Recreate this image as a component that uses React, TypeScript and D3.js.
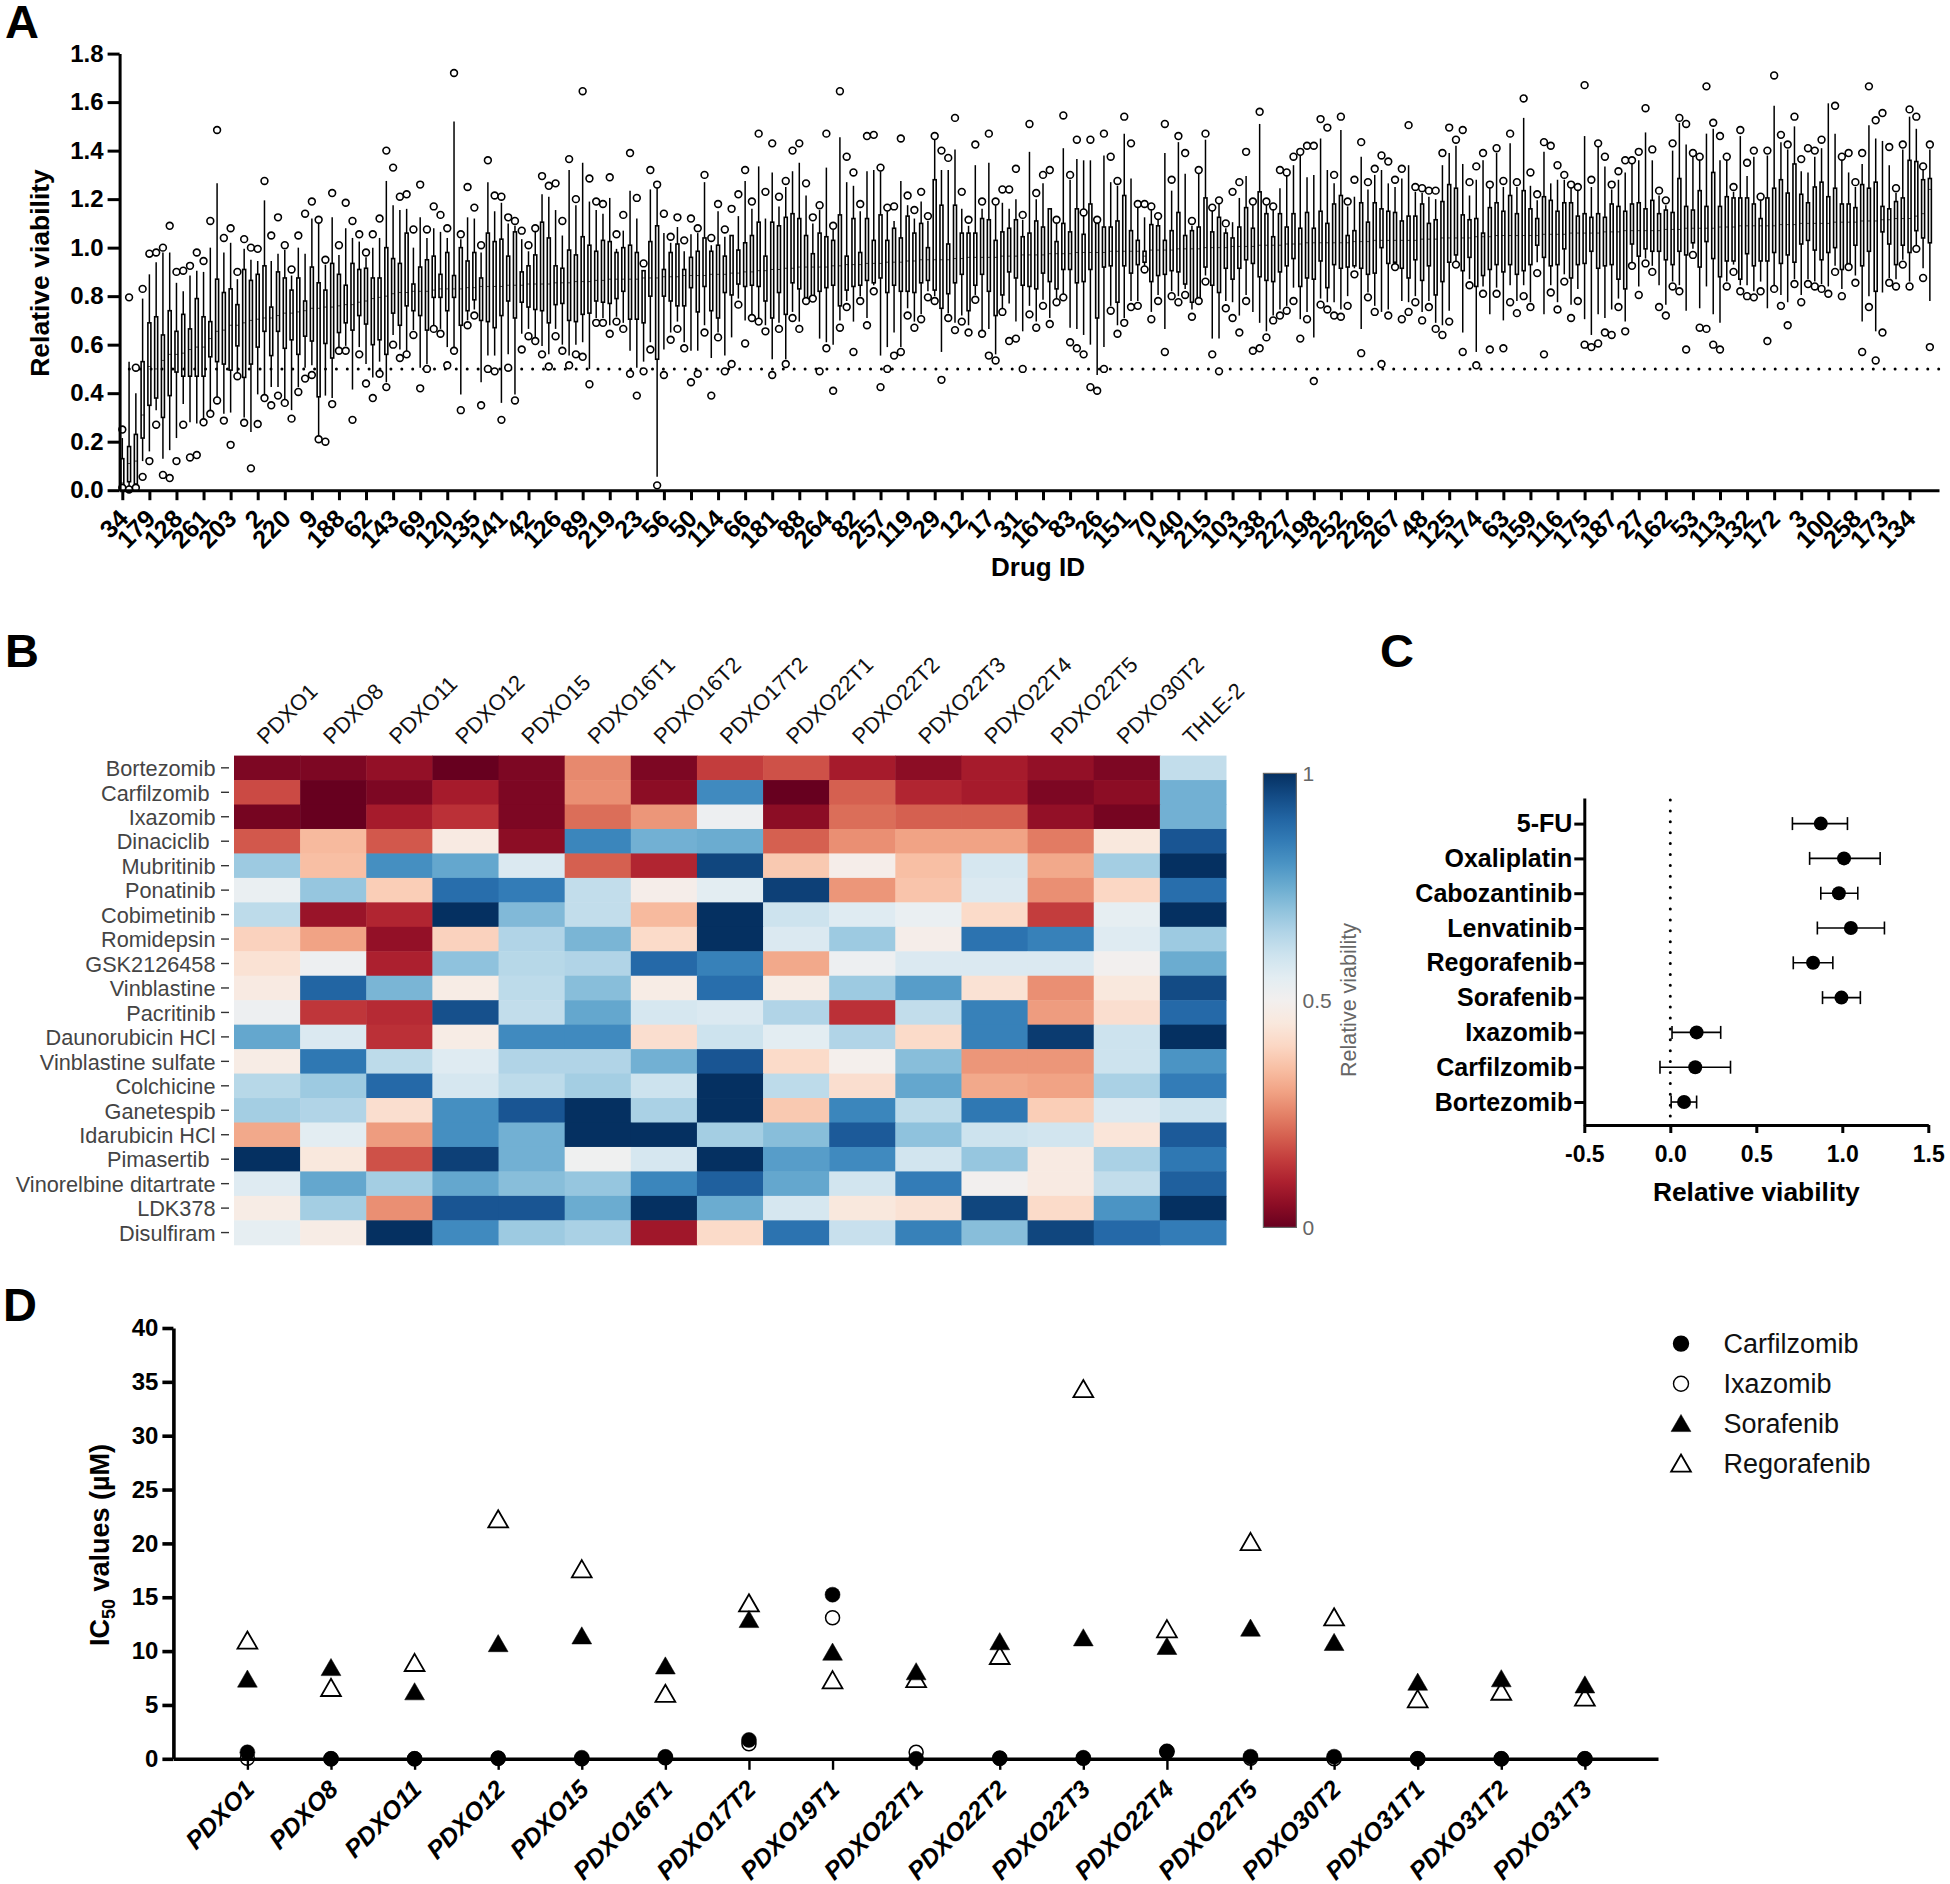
import { FC, useEffect, useRef } from 'react';
import * as d3 from 'd3';

const FONT = '"Liberation Sans", Arial, sans-serif';

// Panel A: one label under every fourth box
const drugLabels = ['34', '179', '128', '261', '203', '2', '220', '9', '188', '62', '143', '69', '120', '135', '141', '42', '126', '89', '219', '23', '56', '50', '114', '66', '181', '88', '264', '82', '257', '119', '29', '12', '17', '31', '161', '83', '26', '151', '70', '140', '215', '103', '138', '227', '198', '252', '226', '267', '48', '125', '174', '63', '159', '116', '175', '187', '27', '162', '53', '113', '132', '172', '3', '100', '258', '173', '134'];

const upperOutlier: (number | null)[] = [
  .25, .795, .505, .83, .975, .98, 1.0, 1.09, .90, .905,
  .925, .98, .945, 1.11, 1.485, 1.04, 1.08, .90, 1.035, 1.00,
  .995, 1.275, 1.05, 1.125, 1.01, .91, 1.05, 1.14, 1.19, 1.115,
  .95, 1.225, 1.01, 1.185, 1.11, 1.055, .98, 1.055, 1.12, 1.40,
  1.33, 1.21, 1.22, 1.075, 1.26, 1.075, 1.17, 1.135, 1.08, 1.72,
  1.055, 1.25, 1.165, 1.01, 1.36, 1.215, 1.21, 1.125, 1.11, 1.07,
  1.01, 1.08, 1.295, 1.255, 1.265, 1.11, 1.365, 1.20, 1.645, 1.285,
  1.19, 1.18, 1.29, 1.055, 1.135, 1.39, 1.205, .935, 1.32, 1.26,
  1.14, 1.045, 1.125, 1.03, 1.12, 1.08, 1.30, 1.04, 1.18, 1.075,
  1.16, 1.22, 1.32, 1.19, 1.47, 1.23, 1.43, 1.21, 1.275, 1.40,
  1.43, 1.265, 1.125, 1.175, 1.47, 1.09, 1.645, 1.375, 1.31, 1.18,
  1.46, 1.465, 1.33, 1.165, 1.17, 1.45, 1.215, 1.155, 1.23, 1.13,
  1.46, 1.40, 1.37, 1.535, 1.23, 1.115, 1.425, 1.19, 1.47, 1.19,
  1.24, 1.24, 1.325, 1.135, 1.51, 1.225, 1.30, 1.32, 1.115, 1.545,
  1.30, 1.445, 1.145, 1.445, 1.115, 1.47, 1.375, 1.275, 1.54, 1.43,
  1.18, 1.18, 1.17, 1.13, 1.51, 1.28, 1.46, 1.39, 1.11, 1.32,
  1.47, 1.165, 1.195, 1.10, 1.23, 1.27, 1.395, 1.19, 1.56, 1.19,
  1.17, 1.32, 1.31, 1.375, 1.395, 1.42, 1.42, 1.53, 1.495, 1.30,
  1.54, 1.19, 1.28, 1.435, 1.27, 1.325, 1.38, 1.355, 1.28, 1.325,
  1.505, 1.25, 1.245, 1.235, 1.235, 1.39, 1.495, 1.445, 1.485, 1.27,
  1.335, 1.39, 1.26, 1.41, 1.275, 1.47, 1.27, 1.615, 1.31, 1.22,
  1.435, 1.42, 1.34, 1.30, 1.26, 1.25, 1.67, 1.28, 1.43, 1.375,
  1.26, 1.315, 1.36, 1.36, 1.395, 1.575, 1.405, 1.235, 1.195, 1.43,
  1.535, 1.51, 1.39, 1.375, 1.665, 1.515, 1.46, 1.375, 1.25, 1.485,
  1.35, 1.40, 1.21, 1.40, 1.71, 1.465, 1.425, 1.54, 1.365, 1.41,
  1.40, 1.445, null, 1.585, 1.375, 1.39, 1.27, 1.39, 1.665, 1.525,
  1.555, 1.415, 1.245, 1.425, 1.57, 1.54, 1.335, 1.425,
];

const whiskerHigh = [
  .215, .53, .40, .79, .89, .94, .98, .98, .855, .82,
  .885, .905, .90, 1.0, 1.265, .98, 1.02, .87, .995, .95,
  .945, 1.195, .945, .975, .99, .885, 1.0, .975, 1.12, 1.10,
  .93, 1.125, .97, 1.08, 1.04, 1.025, .96, 1.0, 1.04, 1.275,
  1.175, 1.155, 1.16, 1.0, 1.125, 1.04, 1.08, 1.065, 1.04, 1.52,
  1.035, 1.125, 1.12, .98, 1.27, 1.15, 1.185, 1.10, 1.09, 1.035,
  .985, 1.065, 1.22, 1.21, 1.155, 1.05, 1.32, 1.175, 1.35, 1.19,
  1.155, 1.14, 1.205, .995, 1.07, 1.235, 1.12, .90, 1.24, 1.25,
  1.06, 1.02, 1.085, .985, 1.055, 1.06, 1.27, 1.01, 1.15, 1.045,
  1.05, 1.13, 1.275, 1.16, 1.335, 1.12, 1.31, 1.17, 1.25, 1.315,
  1.35, 1.215, 1.10, 1.155, 1.33, 1.075, 1.455, 1.27, 1.255, 1.15,
  1.315, 1.32, 1.315, 1.15, 1.11, 1.275, 1.175, 1.12, 1.19, 1.11,
  1.45, 1.32, 1.32, 1.405, 1.16, 1.09, 1.34, 1.16, 1.35, 1.175,
  1.185, 1.16, 1.20, 1.115, 1.395, 1.20, 1.265, 1.16, 1.105, 1.41,
  1.28, 1.365, 1.36, 1.36, 1.10, 1.38, 1.27, 1.255, 1.47, 1.285,
  1.17, 1.125, 1.155, 1.115, 1.39, 1.235, 1.435, 1.305, 1.09, 1.305,
  1.445, 1.155, 1.185, 1.08, 1.105, 1.205, 1.295, 1.175, 1.51, 1.175,
  1.155, 1.245, 1.30, 1.34, 1.39, 1.29, 1.30, 1.45, 1.32, 1.265,
  1.485, 1.17, 1.21, 1.375, 1.24, 1.30, 1.32, 1.265, 1.25, 1.285,
  1.34, 1.23, 1.225, 1.21, 1.20, 1.34, 1.39, 1.42, 1.345, 1.215,
  1.28, 1.36, 1.25, 1.39, 1.25, 1.43, 1.25, 1.535, 1.255, 1.195,
  1.395, 1.265, 1.28, 1.28, 1.25, 1.235, 1.46, 1.25, 1.415, 1.335,
  1.24, 1.28, 1.31, 1.345, 1.36, 1.475, 1.36, 1.215, 1.175, 1.40,
  1.515, 1.425, 1.375, 1.36, 1.47, 1.49, 1.36, 1.36, 1.23, 1.46,
  1.295, 1.375, 1.195, 1.38, 1.585, 1.435, 1.405, 1.50, 1.315, 1.31,
  1.375, 1.41, 1.595, 1.47, 1.36, 1.31, 1.25, 1.345, 1.505, 1.45,
  1.44, 1.34, 1.225, 1.405, 1.54, 1.49, 1.32, 1.405,
];

const boxQ3 = [
  .13, .18, .23, .53, .69, .715, .64, .74, .655, .725,
  .665, .79, .715, .695, .87, .815, .83, .765, .91, .865,
  .89, .925, .755, .90, .875, .825, .875, .78, .92, .855,
  .825, .935, .89, .845, .935, .91, .915, .875, .875, 1.0,
  .955, .935, 1.06, .85, .92, .95, .965, .89, .98, .885,
  1.0, .945, .98, .875, 1.06, 1.025, 1.035, .965, 1.065, .90,
  .925, .97, 1.105, 1.04, .925, .915, .99, .97, 1.045, 1.01,
  .985, 1.03, 1.025, .98, 1.0, 1.01, .98, .905, 1.025, 1.09,
  .91, .98, 1.015, .91, .96, .985, 1.04, .985, 1.01, .965,
  1.05, .99, 1.02, 1.05, 1.105, .965, 1.105, 1.09, 1.125, 1.14,
  1.12, 1.05, .975, 1.06, 1.045, 1.03, 1.135, .965, 1.12, .98,
  1.12, 1.03, 1.135, 1.03, 1.08, 1.04, 1.13, 1.06, 1.10, 1.0,
  1.28, 1.175, 1.015, 1.175, 1.06, 1.06, 1.06, 1.12, 1.115, 1.03,
  1.065, 1.08, 1.115, 1.045, 1.06, 1.11, 1.085, 1.16, 1.025, 1.10,
  1.065, 1.16, 1.055, 1.18, 1.10, 1.085, 1.085, 1.11, 1.215, 1.07,
  1.03, .985, 1.095, 1.09, 1.03, 1.07, 1.145, 1.05, 1.07, 1.085,
  1.205, 1.065, 1.125, 1.06, 1.04, 1.085, 1.165, 1.08, 1.23, 1.14,
  1.045, 1.14, 1.085, 1.14, 1.08, 1.145, 1.08, 1.15, 1.10, 1.18,
  1.215, 1.05, 1.07, 1.185, 1.105, 1.185, 1.16, 1.15, 1.145, 1.11,
  1.13, 1.13, 1.18, 1.10, 1.115, 1.19, 1.26, 1.245, 1.135, 1.115,
  1.12, 1.06, 1.165, 1.185, 1.15, 1.215, 1.14, 1.235, 1.16, 1.12,
  1.21, 1.195, 1.15, 1.185, 1.185, 1.13, 1.14, 1.125, 1.14, 1.125,
  1.18, 1.17, 1.15, 1.18, 1.185, 1.16, 1.195, 1.14, 1.155, 1.145,
  1.285, 1.17, 1.155, 1.235, 1.17, 1.31, 1.17, 1.21, 1.205, 1.205,
  1.205, 1.18, 1.12, 1.205, 1.245, 1.28, 1.225, 1.345, 1.22, 1.185,
  1.25, 1.27, 1.21, 1.245, 1.18, 1.18, 1.165, 1.26, 1.245, 1.27,
  1.17, 1.16, 1.19, 1.205, 1.36, 1.355, 1.28, 1.285,
];

const boxMedian = [
  .03, .11, .12, .31, .51, .50, .535, .56, .56, .565,
  .58, .59, .59, .625, .655, .66, .68, .68, .69, .70,
  .705, .71, .71, .72, .73, .73, .735, .74, .75, .75,
  .755, .755, .76, .765, .765, .775, .78, .79, .795, .80,
  .81, .815, .815, .82, .82, .82, .825, .83, .83, .83,
  .83, .835, .835, .84, .84, .84, .84, .845, .845, .845,
  .85, .85, .85, .85, .855, .855, .855, .86, .86, .86,
  .865, .865, .87, .87, .87, .87, .87, .875, .875, .875,
  .88, .88, .88, .885, .885, .885, .885, .89, .89, .89,
  .895, .895, .90, .90, .905, .905, .91, .91, .915, .915,
  .92, .92, .92, .92, .92, .925, .925, .93, .93, .93,
  .935, .935, .935, .94, .94, .94, .945, .945, .95, .95,
  .95, .95, .95, .955, .955, .96, .96, .96, .96, .96,
  .965, .965, .965, .97, .97, .97, .97, .975, .975, .975,
  .975, .98, .98, .98, .98, .98, .985, .985, .985, .985,
  .985, .965, .99, .99, .99, .99, .995, .995, .995, .995,
  1.0, 1.0, 1.0, 1.0, 1.005, 1.005, 1.005, 1.005, 1.01, 1.01,
  1.01, 1.01, 1.015, 1.015, 1.015, 1.02, 1.02, 1.02, 1.02, 1.02,
  1.02, 1.02, 1.025, 1.025, 1.025, 1.03, 1.03, 1.03, 1.03, 1.03,
  1.03, 1.03, 1.035, 1.035, 1.035, 1.04, 1.04, 1.04, 1.04, 1.04,
  1.045, 1.045, 1.045, 1.05, 1.05, 1.05, 1.05, 1.05, 1.05, 1.05,
  1.055, 1.055, 1.055, 1.055, 1.06, 1.06, 1.06, 1.06, 1.06, 1.065,
  1.065, 1.065, 1.07, 1.07, 1.07, 1.07, 1.07, 1.07, 1.075, 1.075,
  1.075, 1.08, 1.08, 1.08, 1.08, 1.08, 1.085, 1.085, 1.085, 1.09,
  1.09, 1.09, 1.09, 1.09, 1.09, 1.095, 1.095, 1.095, 1.10, 1.10,
  1.10, 1.10, 1.10, 1.105, 1.105, 1.105, 1.105, 1.11, 1.11, 1.11,
  1.115, 1.115, 1.12, 1.12, 1.12, 1.13, 1.14, 1.24,
];

const boxQ1 = [
  0, .035, .025, .215, .35, .38, .30, .39, .487, .47,
  .47, .47, .47, .55, .53, .52, .495, .595, .465, .52,
  .59, .655, .555, .655, .585, .62, .56, .635, .615, .385,
  .605, .545, .65, .69, .66, .72, .685, .60, .62, .56,
  .73, .68, .76, .74, .72, .66, .795, .795, .74, .795,
  .68, .74, .785, .70, .695, .67, .72, .78, .71, .775,
  .755, .745, .74, .69, .765, .77, .70, .695, .725, .73,
  .78, .775, .77, .79, .82, .705, .705, .69, .80, .54,
  .80, .78, .76, .76, .835, .735, .84, .74, .71, .815,
  .805, .85, .84, .845, .84, .78, .71, .815, .725, .855,
  .83, .79, .79, .82, .835, .845, .76, .825, .84, .845,
  .865, .855, .875, .815, .845, .82, .82, .815, .855, .865,
  .825, .75, .81, .855, .89, .74, .845, .89, .82, .72,
  .805, .90, .875, .845, .84, .83, .895, .86, .83, .91,
  .91, .855, .86, .91, .71, .92, .925, .775, .925, .895,
  .93, .94, .86, .885, .89, .905, .90, .85, .775, .79,
  .92, .845, .815, .915, .87, .915, .95, .935, .88, .865,
  .86, .90, .925, .955, .84, .875, .87, .945, .835, .93,
  .915, .92, .925, .915, .89, .895, 1.0, .935, .94, .915,
  .875, .95, .865, .925, .805, .86, .94, .97, .905, .96,
  .84, .885, .91, .93, .90, .93, .89, .905, .93, 1.01,
  .96, .925, .93, .995, .875, .93, .935, .985, .915, .925,
  .93, .87, .83, 1.015, .965, .995, .985, .985, .95, .93,
  .985, .97, 1.02, .92, 1.025, .955, .88, .945, .945, .87,
  .975, .925, .945, .945, .98, .935, .97, .94, 1.015, 1.03,
  .99, .95, .98, 1.0, .91, .925, 1.01, .925, .985, .82,
  1.065, 1.015, .93, 1.01, .98, 1.07, 1.04, 1.02,
];

const whiskerLow = [
  0, .01, .02, .12, .16, .33, .13, .165, .215, .355,
  .28, .275, .29, .33, .38, .315, .32, .48, .30, .24,
  .395, .39, .425, .425, .375, .33, .425, .505, .515, .22,
  .39, .38, .59, .595, .415, .59, .52, .465, .53, .445,
  .64, .58, .57, .66, .505, .52, .68, .665, .59, .58,
  .395, .70, .745, .445, .555, .555, .36, .56, .395, .645,
  .665, .63, .595, .56, .665, .60, .555, .60, .61, .50,
  .71, .71, .68, .715, .69, .575, .505, .53, .61, .055,
  .58, .65, .695, .61, .575, .575, .68, .545, .65, .555,
  .63, .79, .70, .72, .705, .68, .54, .69, .54, .735,
  .695, .80, .805, .625, .61, .60, .70, .78, .695, .80,
  .71, .845, .555, .59, .65, .59, .75, .695, .725, .82,
  .80, .57, .73, .69, .72, .68, .805, .66, .665, .56,
  .75, .77, .695, .655, .76, .695, .785, .71, .78, .805,
  .67, .665, .64, .60, .475, .59, .76, .68, .71, .78,
  .78, .925, .735, .805, .665, .82, .80, .83, .745, .805,
  .885, .625, .625, .78, .775, .72, .805, .735, .69, .655,
  .72, .745, .76, .835, .705, .735, .63, .79, .775, .775,
  .745, .80, .915, .665, .815, .76, .735, .745, .93, .78,
  .775, .80, .735, .78, .69, .68, .74, .945, .65, .87,
  .57, .84, .725, .835, .70, .845, .78, .845, .775, .94,
  .725, .845, .775, .89, .765, .83, .705, .64, .725, .71,
  .745, .79, .695, .93, .84, .955, .925, .845, .765, .86,
  .845, .74, .995, .75, .84, .725, .69, .86, .93, .845,
  .845, .82, .86, .75, .845, .805, .775, .87, .805, .87,
  .86, .85, .84, .925, .83, .94, .885, .695, .80, .655,
  .815, .875, .87, .95, .86, 1.01, .915, .78,
];

const lowerOutlier = [
  .01, .003, .01, .055, .12, .27, .063, .05, .12, .27,
  .135, .145, .28, .315, .37, .287, .187, .47, .278, .09,
  .273, .38, .35, .39, .36, .295, .405, .46, .475, .21,
  .20, .355, .575, .575, .29, .56, .44, .38, .48, .425,
  .60, .545, .56, .64, .42, .50, .665, .645, .515, .575,
  .33, .68, .72, .35, .50, .49, .29, .505, .37, .58,
  .635, .615, .56, .51, .635, .575, .515, .56, .55, .437,
  .69, .69, .645, .695, .665, .48, .39, .49, .58, .02,
  .475, .62, .665, .585, .445, .48, .65, .39, .63, .49,
  .52, .765, .605, .71, .695, .655, .475, .665, .52, .71,
  .665, .78, .79, .49, .585, .41, .67, .755, .57, .78,
  .68, .82, .425, .50, .555, .57, .72, .67, .705, .795,
  .78, .455, .71, .66, .695, .65, .785, .645, .555, .535,
  .735, .615, .625, .50, .725, .67, .76, .685, .775, .795,
  .61, .585, .56, .425, .41, .50, .74, .645, .69, .755,
  .76, .91, .705, .78, .57, .80, .775, .805, .715, .78,
  .86, .56, .49, .75, .71, .65, .78, .575, .585, .63,
  .70, .72, .74, .78, .625, .705, .45, .765, .745, .72,
  .715, .76, .89, .565, .795, .735, .52, .72, .92, .705,
  .735, .775, .70, .755, .665, .64, .695, .93, .57, .845,
  .515, .81, .58, .81, .585, .775, .73, .80, .755, .895,
  .56, .815, .745, .86, .71, .78, .60, .59, .605, .65,
  .64, .755, .655, .925, .805, .935, .90, .755, .72, .84,
  .82, .58, .97, .67, .665, .60, .58, .84, .90, .82,
  .80, .795, .82, .615, .83, .76, .68, .85, .775, .85,
  .84, .83, .81, .90, .80, .92, .855, .57, .755, .535,
  .65, .855, .84, .93, .84, .995, .875, .59,
];

// Panel B
const heatColumns = ['PDXO1', 'PDXO8', 'PDXO11', 'PDXO12', 'PDXO15', 'PDXO16T1', 'PDXO16T2', 'PDXO17T2', 'PDXO22T1', 'PDXO22T2', 'PDXO22T3', 'PDXO22T4', 'PDXO22T5', 'PDXO30T2', 'THLE-2'];
const heatRows = ['Bortezomib', 'Carfilzomib ', 'Ixazomib', 'Dinaciclib ', 'Mubritinib', 'Ponatinib', 'Cobimetinib', 'Romidepsin', 'GSK2126458', 'Vinblastine', 'Pacritinib', 'Daunorubicin HCl', 'Vinblastine sulfate', 'Colchicine', 'Ganetespib', 'Idarubicin HCl', 'Pimasertib ', 'Vinorelbine ditartrate', 'LDK378', 'Disulfiram'];
const heatValues = [
  [.03, .03, .06, 0, .03, .26, .03, .15, .18, .09, .05, .09, .06, .03, .62],
  [.17, 0, .03, .09, .03, .27, .05, .82, 0, .2, .11, .09, .03, .05, .74],
  [.02, 0, .09, .13, .03, .22, .28, .52, .05, .22, .2, .2, .06, .02, .74],
  [.19, .34, .19, .46, .05, .83, .74, .75, .2, .27, .3, .3, .24, .45, .93],
  [.68, .35, .81, .76, .57, .2, .11, .96, .37, .48, .35, .58, .31, .67, 1],
  [.53, .69, .38, .88, .85, .62, .48, .55, .97, .28, .36, .57, .27, .4, .88],
  [.63, .07, .11, 1, .72, .62, .34, 1, .6, .56, .53, .41, .15, .54, 1],
  [.39, .3, .06, .39, .65, .73, .41, 1, .57, .68, .48, .87, .84, .56, .68],
  [.43, .52, .1, .7, .64, .65, .89, .84, .31, .52, .57, .57, .57, .5, .75],
  [.46, .9, .73, .47, .63, .71, .47, .88, .47, .68, .78, .43, .27, .45, .95],
  [.52, .14, .12, .94, .62, .76, .58, .57, .65, .13, .62, .84, .29, .42, .89],
  [.76, .57, .13, .47, .82, .82, .42, .6, .55, .65, .41, .84, .98, .6, 1],
  [.47, .86, .63, .56, .65, .65, .74, .93, .41, .49, .71, .28, .28, .6, .8],
  [.64, .68, .89, .58, .63, .67, .6, 1, .63, .42, .76, .31, .3, .66, .85],
  [.67, .65, .42, .81, .93, 1, .66, 1, .37, .83, .63, .86, .38, .57, .6],
  [.31, .55, .29, .81, .74, 1, 1, .67, .71, .92, .7, .6, .59, .44, .92],
  [1, .45, .18, .97, .74, .51, .58, 1, .78, .82, .59, .69, .46, .66, .86],
  [.56, .76, .67, .76, .71, .69, .83, .91, .76, .59, .85, .5, .46, .62, .91],
  [.47, .67, .27, .93, .93, .75, 1, .75, .58, .45, .43, .96, .41, .8, 1],
  [.54, .47, 1, .82, .68, .66, .08, .41, .87, .61, .84, .71, .96, .89, .85],
];

// Panel C
const forestDrugs = ['5-FU', 'Oxaliplatin', 'Cabozantinib', 'Lenvatinib', 'Regorafenib', 'Sorafenib', 'Ixazomib', 'Carfilzomib', 'Bortezomib'];
const forestMean = [.875, 1.01, .98, 1.05, .83, .995, .153, .145, .08];
const forestLow = [.71, .81, .875, .855, .715, .885, .01, -.06, .005];
const forestHigh = [1.03, 1.22, 1.09, 1.245, .945, 1.105, .293, .35, .153];

// Panel D
const ic50Models = ['PDXO1', 'PDXO8', 'PDXO11', 'PDXO12', 'PDXO15', 'PDXO16T1', 'PDXO17T2', 'PDXO19T1', 'PDXO22T1', 'PDXO22T2', 'PDXO22T3', 'PDXO22T4', 'PDXO22T5', 'PDXO30T2', 'PDXO31T1', 'PDXO31T2', 'PDXO31T3'];
const carfilzomibIC50 = [.6, 0, 0, .05, .1, .18, 1.75, 15.24, 0, .05, .1, .7, .2, .2, 0, 0, 0];
const ixazomibIC50 = [.05, 0, 0, .05, 0, .1, 1.4, 13.1, .6, .05, .05, .65, .05, 0, 0, 0, 0];
const sorafenibIC50 = [7.37, 8.44, 6.19, 10.66, 11.38, 8.59, 12.9, 9.87, 8.05, 10.84, 11.2, 10.4, 12.1, 10.77, 7.08, 7.4, 6.83];
const regorafenibIC50 = [10.95, 6.55, 8.87, 22.2, 17.57, 6.0, 14.4, 7.26, 7.37, 9.52, 34.3, 12.0, 20.1, 13.1, 5.5, 6.2, 5.65];
const ic50Legend = ['Carfilzomib', 'Ixazomib', 'Sorafenib', 'Regorafenib'];

type Sel = d3.Selection<any, any, any, any>;

// Thick black Prism style axes
const styleAxis = (g: Sel, size: number, width = 3) => {
  g.select('.domain').attr('stroke', '#000').attr('stroke-width', width);
  g.selectAll('.tick line').attr('stroke', '#000').attr('stroke-width', width);
  g.selectAll('text')
    .attr('fill', '#000')
    .style('font-family', FONT)
    .style('font-size', `${size}px`)
    .style('font-weight', 'bold');
};

const addText = (svg: Sel, text: string, x: number, y: number, size: number, weight = 'bold', fill = '#000') =>
  svg
    .append('text')
    .attr('x', x)
    .attr('y', y)
    .attr('fill', fill)
    .style('font-family', FONT)
    .style('font-size', `${size}px`)
    .style('font-weight', weight)
    .text(text);

const drawPanelA = (svg: Sel) => {
  const x = d3.scaleLinear().domain([-0.4, 268.35]).range([119.6, 1939]);
  const y = d3.scaleLinear().domain([0, 1.8]).range([490.2, 53.6]);
  const g = svg.append('g');
  const indices = d3.range(boxMedian.length);
  const boxWidth = 3;

  // Whiskers
  g.selectAll('.whisker')
    .data(indices)
    .enter()
    .append('line')
    .attr('x1', (i) => x(i))
    .attr('x2', (i) => x(i))
    .attr('y1', (i) => y(whiskerHigh[i]))
    .attr('y2', (i) => y(whiskerLow[i]))
    .attr('stroke', '#000')
    .attr('stroke-width', 1.5);

  // Boxes
  g.selectAll('.box')
    .data(indices)
    .enter()
    .append('rect')
    .attr('x', (i) => x(i) - boxWidth / 2)
    .attr('width', boxWidth)
    .attr('y', (i) => y(boxQ3[i]))
    .attr('height', (i) => y(boxQ1[i]) - y(boxQ3[i]))
    .attr('fill', '#fff')
    .attr('stroke', '#000')
    .attr('stroke-width', 1.6);

  // Medians
  g.selectAll('.median')
    .data(indices)
    .enter()
    .append('line')
    .attr('x1', (i) => x(i) - boxWidth / 2)
    .attr('x2', (i) => x(i) + boxWidth / 2)
    .attr('y1', (i) => y(boxMedian[i]))
    .attr('y2', (i) => y(boxMedian[i]))
    .attr('stroke', '#000')
    .attr('stroke-width', 0.7);

  // Threshold
  g.append('line')
    .attr('x1', x(0) + 7)
    .attr('x2', x.range()[1])
    .attr('y1', y(0.5))
    .attr('y2', y(0.5))
    .attr('stroke', '#000')
    .attr('stroke-width', 3)
    .attr('stroke-linecap', 'round')
    .attr('stroke-dasharray', '0 10.9');

  // Outliers
  const outliers = [
    ...indices.filter((i) => upperOutlier[i] !== null).map((i) => ({ i, v: upperOutlier[i] as number })),
    ...indices.map((i) => ({ i, v: lowerOutlier[i] })),
  ];
  g.selectAll('.outlier')
    .data(outliers)
    .enter()
    .append('circle')
    .attr('cx', (d) => x(d.i))
    .attr('cy', (d) => y(d.v))
    .attr('r', 3.4)
    .attr('fill', '#fff')
    .attr('stroke', '#000')
    .attr('stroke-width', 1.6);

  // Axes
  const yAxis = svg
    .append('g')
    .attr('transform', `translate(${x.range()[0]},0)`)
    .call(
      d3.axisLeft(y)
        .tickValues(d3.range(0, 1.81, 0.2))
        .tickSizeInner(12)
        .tickSizeOuter(0)
        .tickPadding(4)
        .tickFormat((d) => (+d).toFixed(1)),
    );
  styleAxis(yAxis, 24);

  const xAxis = svg
    .append('g')
    .attr('transform', `translate(0,${y(0)})`)
    .call(
      d3.axisBottom(x)
        .tickValues(drugLabels.map((_, i) => i * 4))
        .tickSizeInner(10)
        .tickSizeOuter(0)
        .tickFormat((d) => drugLabels[+d / 4]),
    );
  styleAxis(xAxis, 25);
  xAxis
    .selectAll('text')
    .attr('y', 0)
    .attr('dy', 0)
    .attr('transform', 'translate(7,30)rotate(-45)')
    .style('text-anchor', 'end');

  addText(svg, 'Drug ID', 1038, 576, 26).style('text-anchor', 'middle');
  addText(svg, 'Relative viability', 0, 0, 26.5)
    .attr('transform', 'translate(49,273)rotate(-90)')
    .style('text-anchor', 'middle');
};

const drawPanelB = (svg: Sel) => {
  const x = d3.scaleBand().domain(heatColumns).range([234, 1226]);
  const y = d3.scaleBand().domain(heatRows).range([755.6, 1244.8]);
  const color = d3.scaleSequential(d3.interpolateRdBu).domain([0, 1]);

  const cells = heatRows.flatMap((row, r) => heatColumns.map((col, c) => ({ row, col, v: heatValues[r][c] })));
  svg
    .append('g')
    .selectAll('rect')
    .data(cells)
    .enter()
    .append('rect')
    .attr('x', (d) => x(d.col)!)
    .attr('y', (d) => y(d.row)!)
    .attr('width', x.bandwidth() + 0.5)
    .attr('height', y.bandwidth() + 0.5)
    .attr('fill', (d) => color(d.v));

  // Row labels
  const rowAxis = svg
    .append('g')
    .attr('transform', 'translate(229,0)')
    .call(d3.axisLeft(y).tickSizeInner(8).tickSizeOuter(0).tickPadding(5.5));
  rowAxis.select('.domain').remove();
  rowAxis.selectAll('.tick line').attr('stroke', '#333').attr('stroke-width', 1.4);
  rowAxis
    .selectAll('text')
    .attr('fill', '#444')
    .attr('dy', '0.38em')
    .style('font-family', FONT)
    .style('font-size', '21.7px')
    .style('white-space', 'pre');

  // Column labels
  const colAxis = svg
    .append('g')
    .attr('transform', 'translate(0,755.6)')
    .call(d3.axisTop(x).tickSizeInner(0).tickSizeOuter(0));
  colAxis.select('.domain').remove();
  colAxis
    .selectAll('text')
    .attr('y', 0)
    .attr('dy', 0)
    .attr('transform', 'translate(-1,-10)rotate(-45)')
    .attr('fill', '#111')
    .style('font-family', FONT)
    .style('font-size', '22px')
    .style('text-anchor', 'start');

  // Colour bar
  const barScale = d3.scaleLinear().domain([0, 1]).range([1227.4, 773.4]);
  const gradient = svg
    .append('defs')
    .append('linearGradient')
    .attr('id', 'rdbu')
    .attr('x1', 0)
    .attr('x2', 0)
    .attr('y1', 1)
    .attr('y2', 0);
  d3.range(0, 1.001, 0.05).forEach((t) => {
    gradient.append('stop').attr('offset', t).attr('stop-color', color(t));
  });
  svg
    .append('rect')
    .attr('x', 1263.4)
    .attr('y', barScale(1))
    .attr('width', 33)
    .attr('height', barScale(0) - barScale(1))
    .attr('fill', 'url(#rdbu)')
    .attr('stroke', '#666')
    .attr('stroke-width', 1.2);
  const barAxis = svg
    .append('g')
    .attr('transform', 'translate(1296.5,0)')
    .call(
      d3.axisRight(barScale)
        .tickValues([0, 0.5, 1])
        .tickSize(0)
        .tickPadding(6)
        .tickFormat((d) => String(d)),
    );
  barAxis.select('.domain').remove();
  barAxis
    .selectAll('text')
    .attr('fill', '#666')
    .style('font-family', FONT)
    .style('font-size', '21px');
  addText(svg, 'Relative viability', 0, 0, 21.5, 'normal', '#666')
    .attr('transform', 'translate(1356,1000)rotate(-90)')
    .style('text-anchor', 'middle');
};

const drawPanelC = (svg: Sel) => {
  const x = d3.scaleLinear().domain([-0.5, 1.5]).range([1584.3, 1928.3]);
  const y = d3.scalePoint().domain(forestDrugs).range([798, 1125]).padding(0.698).align(0.527);

  // Zero line
  svg
    .append('line')
    .attr('x1', x(0))
    .attr('x2', x(0))
    .attr('y1', 800)
    .attr('y2', 1125)
    .attr('stroke', '#000')
    .attr('stroke-width', 3)
    .attr('stroke-linecap', 'round')
    .attr('stroke-dasharray', '0 10.9');

  const rows = svg.append('g').selectAll('g').data(forestDrugs).enter().append('g');
  rows
    .append('line')
    .attr('x1', (_, i) => x(forestLow[i]))
    .attr('x2', (_, i) => x(forestHigh[i]))
    .attr('y1', (d) => y(d)!)
    .attr('y2', (d) => y(d)!)
    .attr('stroke', '#000')
    .attr('stroke-width', 1.6);
  [forestLow, forestHigh].forEach((ends) => {
    rows
      .append('line')
      .attr('x1', (_, i) => x(ends[i]))
      .attr('x2', (_, i) => x(ends[i]))
      .attr('y1', (d) => y(d)! - 6.5)
      .attr('y2', (d) => y(d)! + 6.5)
      .attr('stroke', '#000')
      .attr('stroke-width', 1.6);
  });
  rows
    .append('circle')
    .attr('cx', (_, i) => x(forestMean[i]))
    .attr('cy', (d) => y(d)!)
    .attr('r', 7);

  const yAxis = svg
    .append('g')
    .attr('transform', `translate(${x(-0.5)},0)`)
    .call(d3.axisLeft(y).tickSizeInner(10).tickSizeOuter(0).tickPadding(2));
  styleAxis(yAxis, 25);
  const xAxis = svg
    .append('g')
    .attr('transform', 'translate(0,1125)')
    .call(
      d3.axisBottom(x)
        .tickValues([-0.5, 0, 0.5, 1, 1.5])
        .tickSizeInner(8)
        .tickSizeOuter(0)
        .tickPadding(13)
        .tickFormat((d) => (+d).toFixed(1)),
    );
  styleAxis(xAxis, 23);
  addText(svg, 'Relative viability', x(0.5), 1201, 26.4).style('text-anchor', 'middle');
};

const drawPanelD = (svg: Sel) => {
  const x = d3.scalePoint().domain(ic50Models).range([173.4, 1658]).padding(0.88).align(0.503);
  const y = d3.scaleLinear().domain([0, 40]).range([1758.8, 1328]);
  const triangle = d3.symbol().type(d3.symbolTriangle).size(170)();
  // the original triangles sit a little below the value they were read at
  const drop = 2;

  const yAxis = svg
    .append('g')
    .attr('transform', 'translate(173.4,0)')
    .call(d3.axisLeft(y).tickValues(d3.range(0, 41, 5)).tickSizeInner(11).tickSizeOuter(0).tickPadding(4));
  styleAxis(yAxis, 24, 3.6);
  const xAxis = svg
    .append('g')
    .attr('transform', `translate(0,${y(0)})`)
    .call(d3.axisBottom(x).tickSizeInner(11).tickSizeOuter(0));
  styleAxis(xAxis, 25, 3.6);
  xAxis.selectAll('.tick line').attr('stroke-width', 2.4);
  xAxis
    .selectAll('text')
    .attr('y', 0)
    .attr('dy', 0)
    .attr('transform', 'translate(8,32)rotate(-45)')
    .style('text-anchor', 'end')
    .style('font-style', 'italic');

  const drawTriangles = (values: number[], filled: boolean) => {
    svg
      .append('g')
      .selectAll('path')
      .data(ic50Models)
      .enter()
      .append('path')
      .attr('d', triangle)
      .attr('transform', (d, i) => `translate(${x(d)},${y(values[i]) + drop})`)
      .attr('fill', filled ? '#000' : 'none')
      .attr('stroke', '#000')
      .attr('stroke-width', filled ? 0.5 : 1.8);
  };
  const drawCircles = (values: number[], filled: boolean) => {
    svg
      .append('g')
      .selectAll('circle')
      .data(ic50Models)
      .enter()
      .append('circle')
      .attr('cx', (d) => x(d)!)
      .attr('cy', (_, i) => y(values[i]))
      .attr('r', filled ? 7.5 : 7)
      .attr('fill', filled ? '#000' : 'none')
      .attr('stroke', '#000')
      .attr('stroke-width', filled ? 0.5 : 1.5);
  };
  drawTriangles(regorafenibIC50, false);
  drawCircles(ixazomibIC50, false);
  drawTriangles(sorafenibIC50, true);
  drawCircles(carfilzomibIC50, true);

  const title = addText(svg, '', 0, 0, 27)
    .attr('transform', 'translate(109,1545)rotate(-90)')
    .style('text-anchor', 'middle');
  title.append('tspan').text('IC');
  title.append('tspan').attr('dy', 6).style('font-size', '18px').text('50');
  title.append('tspan').attr('dy', -6).text(' values (µM)');

  // Legend
  const legendY = d3.scalePoint().domain(ic50Legend).range([1343.6, 1464]);
  ic50Legend.forEach((name, i) => {
    const cy = legendY(name)!;
    if (i < 2) {
      svg
        .append('circle')
        .attr('cx', 1681)
        .attr('cy', cy)
        .attr('r', 7.5)
        .attr('fill', i === 0 ? '#000' : 'none')
        .attr('stroke', '#000')
        .attr('stroke-width', 1.4);
    } else {
      svg
        .append('path')
        .attr('d', triangle)
        .attr('transform', `translate(1681,${cy + drop})`)
        .attr('fill', i === 2 ? '#000' : 'none')
        .attr('stroke', '#000')
        .attr('stroke-width', i === 2 ? 0.5 : 1.8);
    }
    addText(svg, name, 1723.4, cy + 9, 27, 'normal', '#111');
  });
};

const App: FC = () => {
  const chartRef = useRef<SVGSVGElement>(null);

  useEffect(() => {
    const svg = d3.select(chartRef.current);
    svg.selectAll('*').remove();

    addText(svg, 'A', 5, 38, 47);
    addText(svg, 'B', 5, 667, 47);
    addText(svg, 'C', 1380, 667, 47);
    addText(svg, 'D', 3, 1321, 47);

    drawPanelA(svg);
    drawPanelB(svg);
    drawPanelC(svg);
    drawPanelD(svg);
  }, []);

  return (
    <svg
      ref={chartRef}
      width={1950}
      height={1884}
      style={{ position: 'absolute', left: 0, top: 0, background: '#fff' }}
    />
  );
};

export default App;
